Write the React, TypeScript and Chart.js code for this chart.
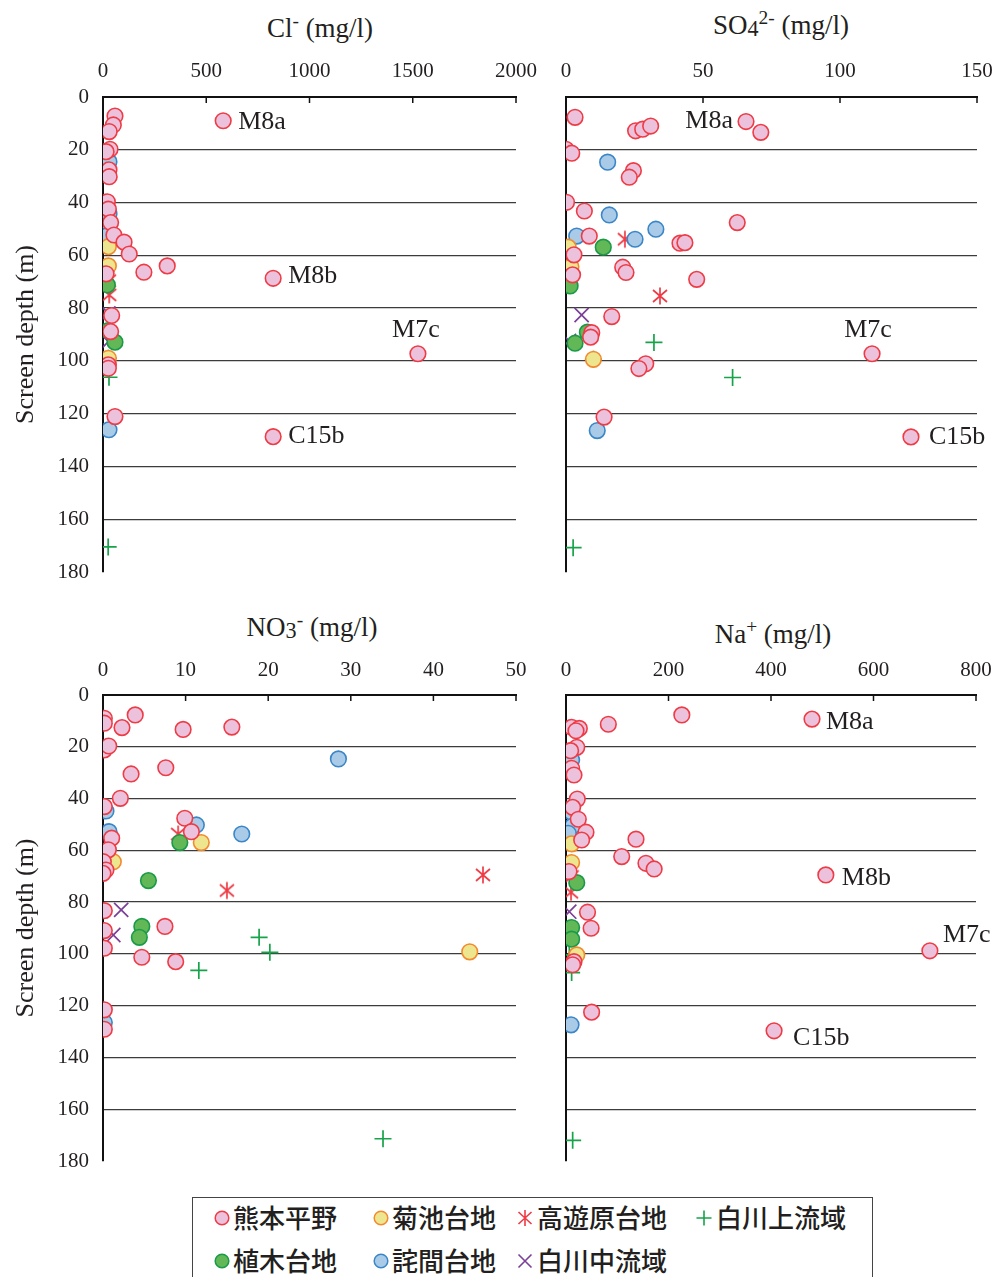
import React, { useEffect, useRef } from 'react';
import { Chart, registerables } from 'chart.js';

Chart.register(...registerables);

type P = [number, number]; // [concentration, screen depth]

// ---------- Cl- (mg/l) ----------
const clKumamoto: P[] = [[58, 7.2], [50, 10.6], [30, 13.1], [34, 19.8], [15, 20.7], [29, 27.6], [30, 30.2], [21, 39.7], [26, 42.5], [37, 47.6], [53, 52.3], [102, 55.0], [127, 59.5], [198, 66.4], [311, 64.0], [15, 67.0], [824, 68.7], [582, 9.0], [42, 82.8], [37, 88.9], [26, 101.5], [26, 102.8], [58, 121.1], [824, 128.7], [1525, 97.3]];
const clKikuchi: P[] = [[26, 56.7], [26, 64.0], [26, 99.0]];
const clTakayubaru: P[] = [[29, 53.5], [29, 69.6], [30, 75.0]];
const clShirakawaUpper: P[] = [[26, 99.0], [29, 106.2], [25, 170.5]];
const clUeki: P[] = [[21, 71.2], [26, 88.5], [58, 92.9]];
const clTakuma: P[] = [[29, 24.5], [29, 44.3], [29, 50.1], [21, 52.5], [29, 126.1]];
const clShirakawaMid: P[] = [[26, 82.0], [26, 92.7]];

// ---------- SO4 2- (mg/l) ----------
const so4Kumamoto: P[] = [[3.3, 7.7], [25.4, 12.8], [28.0, 12.2], [30.9, 11.0], [65.7, 9.3], [71.1, 13.4], [0, 19.8], [2.1, 21.3], [24.6, 27.9], [23.1, 30.4], [0.2, 39.9], [6.7, 43.2], [62.5, 47.6], [8.5, 52.7], [41.6, 55.4], [43.4, 55.2], [2.9, 59.8], [20.7, 64.5], [21.9, 66.5], [2.4, 67.4], [47.7, 69.1], [16.7, 83.2], [9.4, 89.3], [9.0, 91.0], [29.1, 101.1], [26.6, 102.9], [13.9, 121.3], [111.7, 97.3], [125.9, 128.8]];
const so4Kikuchi: P[] = [[0.8, 56.9], [1.8, 64.3], [10.0, 99.4]];
const so4Takayubaru: P[] = [[21.5, 53.9], [1.7, 70.3], [34.3, 75.4]];
const so4ShirakawaUpper: P[] = [[32.1, 93.0], [10.0, 99.4], [60.8, 106.3], [2.6, 170.8]];
const so4Ueki: P[] = [[13.6, 56.9], [1.5, 71.6], [7.8, 89.1], [3.3, 93.3]];
const so4Takuma: P[] = [[15.2, 24.7], [15.8, 44.7], [32.8, 50.1], [3.9, 52.7], [25.2, 53.9], [11.4, 126.4]];
const so4ShirakawaMid: P[] = [[5.7, 82.6], [1.1, 92.4]];

// ---------- NO3- (mg/l) ----------
const no3Kumamoto: P[] = [[0.16, 9.0], [0.16, 10.9], [3.9, 7.7], [2.3, 12.6], [9.7, 13.3], [15.6, 12.4], [0.16, 21.2], [0.7, 19.7], [7.6, 28.1], [3.4, 30.5], [2.1, 39.9], [0.16, 43.1], [9.9, 47.6], [10.7, 52.8], [1.05, 55.3], [0.65, 59.8], [0.04, 64.4], [0.36, 67.6], [0, 68.9], [0.16, 83.3], [0.16, 91.0], [7.5, 89.4], [0.16, 97.8], [4.7, 101.3], [8.8, 103.0], [0.16, 121.6], [0.16, 129.1]];
const no3Kikuchi: P[] = [[11.9, 57.0], [1.25, 64.4], [44.4, 99.2]];
const no3Takayubaru: P[] = [[9.1, 53.7], [46.0, 69.5], [15.0, 75.5]];
const no3ShirakawaUpper: P[] = [[18.9, 93.6], [20.2, 99.4], [11.6, 106.4], [33.9, 171.4]];
const no3Ueki: P[] = [[9.3, 57.0], [5.5, 71.7], [4.7, 89.4], [4.4, 93.6]];
const no3Takuma: P[] = [[28.5, 24.7], [0.36, 44.8], [11.3, 50.2], [0.73, 52.8], [16.8, 53.7], [0.16, 126.5]];
const no3ShirakawaMid: P[] = [[2.2, 83.0], [1.25, 92.7]];

// ---------- Na+ (mg/l) ----------
const naKumamoto: P[] = [[226, 7.7], [82.6, 11.3], [11, 12.5], [26, 12.9], [19.5, 13.8], [21, 20.2], [9, 21.5], [11, 28.3], [15.6, 30.9], [22, 40.2], [13, 43.4], [24, 48.0], [39, 53.0], [30.6, 56.0], [136.6, 55.7], [108.7, 62.4], [156, 65.0], [172, 67.2], [5.9, 68.2], [42, 83.9], [49, 90.1], [15.6, 103.0], [13, 104.2], [50, 122.5], [480, 9.3], [507, 69.5], [710, 98.8], [406, 129.7]];
const naKikuchi: P[] = [[11, 57.5], [11, 64.7], [21, 100.4]];
const naTakayubaru: P[] = [[11, 54.1], [11, 70.1], [9.8, 76.2]];
const naShirakawaUpper: P[] = [[6.5, 100.4], [11, 107.2], [13, 172.0]];
const naUeki: P[] = [[21, 72.5], [11, 89.8], [11, 94.3]];
const naTakuma: P[] = [[11, 25.1], [11, 45.3], [13, 50.6], [4.5, 53.4], [9.8, 127.4]];
const naShirakawaMid: P[] = [[6.4, 83.7], [9, 93.0]];

// ---------- labels ----------
const groupLabels = ['熊本平野', '菊池台地', '高遊原台地', '白川上流域', '植木台地', '詫間台地', '白川中流域'];
const depthTicks = { min: 0, max: 180, step: 20 };
const yTitle = 'Screen depth (m)';

type Note = { text: string; x: number; y: number; dx: number; dy: number; align: CanvasTextAlign };
const clNotes: Note[] = [
  { text: 'M8a', x: 582, y: 9.0, dx: 15, dy: 1, align: 'left' },
  { text: 'M8b', x: 824, y: 68.7, dx: 15, dy: -2, align: 'left' },
  { text: 'M7c', x: 1525, y: 97.3, dx: -2, dy: -24, align: 'center' },
  { text: 'C15b', x: 824, y: 128.7, dx: 15, dy: 0, align: 'left' },
];
const so4Notes: Note[] = [
  { text: 'M8a', x: 65.7, y: 9.3, dx: -13, dy: 0, align: 'right' },
  { text: 'M7c', x: 111.7, y: 97.3, dx: -4, dy: -24, align: 'center' },
  { text: 'C15b', x: 125.9, y: 128.8, dx: 18, dy: 0, align: 'left' },
];
const naNotes: Note[] = [
  { text: 'M8a', x: 480, y: 9.3, dx: 14, dy: 3, align: 'left' },
  { text: 'M8b', x: 507, y: 69.5, dx: 16, dy: 3, align: 'left' },
  { text: 'M7c', x: 710, y: 98.8, dx: 13, dy: -16, align: 'left' },
  { text: 'C15b', x: 406, y: 129.7, dx: 19, dy: 7, align: 'left' },
];

const COLORS = {
  pinkFill: '#EBC1DB', pinkLine: '#EE3B45',
  yellowFill: '#EDE68E', yellowLine: '#F28A30',
  greenFill: '#62B856', greenLine: '#199A48',
  blueFill: '#AACBE7', blueLine: '#3A86C8',
  red: '#EE3B45', plus: '#17A34A', purple: '#7C3F98',
};

const SERIF = '"Liberation Serif", "Times New Roman", serif';
const CJK = '"Noto Sans CJK JP", "Noto Sans CJK SC", sans-serif';
const INK = '#231F20';

function makeAsterisk(color: string): HTMLCanvasElement {
  const c = document.createElement('canvas');
  c.width = 20; c.height = 20;
  const g = c.getContext('2d')!;
  g.strokeStyle = color; g.lineWidth = 1.7;
  g.beginPath();
  g.moveTo(10, 1.5); g.lineTo(10, 18.5);
  g.moveTo(3, 4); g.lineTo(17, 16);
  g.moveTo(17, 4); g.lineTo(3, 16);
  g.stroke();
  return c;
}

type PanelCfg = {
  left: number; top: number; w: number; h: number;
  yw: number; xh: number; pr: number; pb: number;
  xmax: number; step: number; showY: boolean; xpad: number;
  groups: P[][]; notes: Note[];
};

const panels: PanelCfg[] = [
  { left: 0, top: 40, w: 540, h: 550, yw: 103, xh: 57, pr: 24, pb: 18, xmax: 2000, step: 500, showY: true, xpad: 13,
    groups: [clKumamoto, clKikuchi, clTakayubaru, clShirakawaUpper, clUeki, clTakuma, clShirakawaMid], notes: clNotes },
  { left: 540, top: 40, w: 456, h: 550, yw: 26, xh: 57, pr: 19, pb: 18, xmax: 150, step: 50, showY: false, xpad: 13,
    groups: [so4Kumamoto, so4Kikuchi, so4Takayubaru, so4ShirakawaUpper, so4Ueki, so4Takuma, so4ShirakawaMid], notes: so4Notes },
  { left: 0, top: 640, w: 540, h: 545, yw: 103, xh: 55, pr: 24, pb: 24, xmax: 50, step: 10, showY: true, xpad: 12,
    groups: [no3Kumamoto, no3Kikuchi, no3Takayubaru, no3ShirakawaUpper, no3Ueki, no3Takuma, no3ShirakawaMid], notes: [] },
  { left: 540, top: 640, w: 456, h: 545, yw: 26, xh: 55, pr: 20, pb: 24, xmax: 800, step: 200, showY: false, xpad: 12,
    groups: [naKumamoto, naKikuchi, naTakayubaru, naShirakawaUpper, naUeki, naTakuma, naShirakawaMid], notes: naNotes },
];

function buildDatasets(groups: P[][], asterisk: HTMLCanvasElement) {
  const toPts = (g: P[]) => g.map(([x, y]) => ({ x, y }));
  const circle = (fill: string, line: string) => ({ pointStyle: 'circle', pointRadius: 7.8, backgroundColor: fill, borderColor: line, borderWidth: 1.6 });
  // drawing order: circles first, line markers on top
  return [
    { label: groupLabels[0], data: toPts(groups[0]), ...circle(COLORS.pinkFill, COLORS.pinkLine) },
    { label: groupLabels[1], data: toPts(groups[1]), ...circle(COLORS.yellowFill, COLORS.yellowLine) },
    { label: groupLabels[4], data: toPts(groups[4]), ...circle(COLORS.greenFill, COLORS.greenLine) },
    { label: groupLabels[5], data: toPts(groups[5]), ...circle(COLORS.blueFill, COLORS.blueLine) },
    { label: groupLabels[2], data: toPts(groups[2]), pointStyle: asterisk, pointRadius: 10, borderColor: COLORS.red, backgroundColor: COLORS.red },
    { label: groupLabels[3], data: toPts(groups[3]), pointStyle: 'cross', pointRadius: 8.5, borderColor: COLORS.plus, borderWidth: 1.7 },
    { label: groupLabels[6], data: toPts(groups[6]), pointStyle: 'crossRot', pointRadius: 10, borderColor: COLORS.purple, borderWidth: 1.7 },
  ];
}

function Panel({ cfg }: { cfg: PanelCfg }) {
  const ref = useRef<HTMLCanvasElement>(null);
  useEffect(() => {
    if (!ref.current) return;
    const asterisk = makeAsterisk(COLORS.red);
    const notes = cfg.notes;
    const decor = {
      id: 'decor',
      afterDraw(chart: any) {
        const { ctx, chartArea } = chart;
        const xs = chart.scales.x, ys = chart.scales.y;
        ctx.save();
        ctx.strokeStyle = '#111'; ctx.lineWidth = 1.5;
        xs.ticks.forEach((t: any, i: number) => {
          if (i === 0) return;
          const px = xs.getPixelForValue(t.value);
          ctx.beginPath(); ctx.moveTo(px, chartArea.top); ctx.lineTo(px, chartArea.top + 6); ctx.stroke();
        });
        ctx.font = `26px ${SERIF}`;
        ctx.fillStyle = INK;
        ctx.textBaseline = 'middle';
        for (const n of notes) {
          ctx.textAlign = n.align;
          ctx.fillText(n.text, xs.getPixelForValue(n.x) + n.dx, ys.getPixelForValue(n.y) + n.dy);
        }
        ctx.restore();
      },
    };
    const chart = new Chart(ref.current, {
      type: 'scatter',
      data: { datasets: buildDatasets(cfg.groups, asterisk) as any },
      options: {
        animation: false,
        responsive: false,
        maintainAspectRatio: false,
        layout: { padding: { left: 0, top: 0, right: cfg.pr, bottom: cfg.pb } },
        plugins: { legend: { display: false }, tooltip: { enabled: false }, title: { display: false } },
        scales: {
          x: {
            type: 'linear', position: 'top', min: 0, max: cfg.xmax,
            ticks: { stepSize: cfg.step, maxRotation: 0, padding: cfg.xpad, color: INK, font: { family: SERIF, size: 21 }, callback: (v: any) => String(v) },
            grid: { display: false, drawTicks: false },
            border: { display: true, color: '#111', width: 2 },
            afterFit: (s: any) => { s.height = cfg.xh; s.paddingLeft = 0; s.paddingRight = 0; },
          },
          y: {
            type: 'linear', reverse: true, min: depthTicks.min, max: depthTicks.max,
            ticks: { stepSize: depthTicks.step, display: cfg.showY, padding: 14, color: INK, font: { family: SERIF, size: 21 }, callback: (v: any) => String(v) },
            grid: {
              drawTicks: false, lineWidth: 1.3,
              color: (c: any) => (c.tick && (c.tick.value === depthTicks.min || c.tick.value === depthTicks.max)) ? 'rgba(0,0,0,0)' : '#3c3c3c',
            },
            border: { display: true, color: '#111', width: 2 },
            title: { display: cfg.showY, text: yTitle, color: INK, font: { family: SERIF, size: 26 }, padding: { top: 11, bottom: 0 } },
            afterFit: (s: any) => { s.width = cfg.yw; s.paddingTop = 0; s.paddingBottom = 0; },
          },
        },
      } as any,
      plugins: [decor],
    });
    return () => chart.destroy();
  }, [cfg]);
  return (
    <canvas ref={ref} width={cfg.w} height={cfg.h}
      style={{ position: 'absolute', left: cfg.left, top: cfg.top, width: cfg.w, height: cfg.h }} />
  );
}

const sup = (t: string) => <span style={{ fontSize: '0.72em', position: 'relative', top: '-0.5em' }}>{t}</span>;
const sub = (t: string) => <span style={{ fontSize: '0.82em', position: 'relative', top: '0.08em' }}>{t}</span>;

function Title({ cx, top, children }: { cx: number; top: number; children: React.ReactNode }) {
  return (
    <div style={{ position: 'absolute', left: cx - 150, top, width: 300, textAlign: 'center', fontFamily: SERIF, fontSize: 27, lineHeight: '32px', color: INK, whiteSpace: 'nowrap' }}>
      {children}
    </div>
  );
}

function Marker({ kind }: { kind: string }) {
  const s = 18;
  let el: React.ReactNode = null;
  if (kind === 'pink') el = <circle cx={9} cy={9} r={6.8} fill={COLORS.pinkFill} stroke={COLORS.pinkLine} strokeWidth={1.5} />;
  if (kind === 'yellow') el = <circle cx={9} cy={9} r={6.8} fill={COLORS.yellowFill} stroke={COLORS.yellowLine} strokeWidth={1.5} />;
  if (kind === 'green') el = <circle cx={9} cy={9} r={6.8} fill={COLORS.greenFill} stroke={COLORS.greenLine} strokeWidth={1.5} />;
  if (kind === 'blue') el = <circle cx={9} cy={9} r={6.8} fill={COLORS.blueFill} stroke={COLORS.blueLine} strokeWidth={1.5} />;
  if (kind === 'star') el = <path d="M9 1V17M2.5 3L15.5 15M15.5 3L2.5 15" stroke={COLORS.red} strokeWidth={1.6} fill="none" />;
  if (kind === 'plus') el = <path d="M1.5 9H16.5M9 1.5V16.5" stroke={COLORS.plus} strokeWidth={1.6} fill="none" />;
  if (kind === 'x') el = <path d="M2.5 2.5L15.5 15.5M15.5 2.5L2.5 15.5" stroke={COLORS.purple} strokeWidth={1.6} fill="none" />;
  return <svg width={s} height={s} style={{ display: 'block' }}>{el}</svg>;
}

const legendItems = [
  { kind: 'pink', label: groupLabels[0], mx: 222, tx: 233, row: 0 },
  { kind: 'yellow', label: groupLabels[1], mx: 381, tx: 392, row: 0 },
  { kind: 'star', label: groupLabels[2], mx: 525, tx: 537, row: 0 },
  { kind: 'plus', label: groupLabels[3], mx: 704, tx: 716, row: 0 },
  { kind: 'green', label: groupLabels[4], mx: 222, tx: 233, row: 1 },
  { kind: 'blue', label: groupLabels[5], mx: 381, tx: 392, row: 1 },
  { kind: 'x', label: groupLabels[6], mx: 525, tx: 537, row: 1 },
];
const rowY = [1218, 1261];

export default function App() {
  return (
    <div style={{ position: 'absolute', left: 0, top: 0, width: 996, height: 1277, overflow: 'hidden', background: '#fff', fontFamily: SERIF }}>
      <Title cx={320} top={12}>Cl{sup('-')} (mg/l)</Title>
      <Title cx={781} top={9}>SO{sub('4')}{sup('2-')} (mg/l)</Title>
      <Title cx={312} top={611}>NO{sub('3')}{sup('-')} (mg/l)</Title>
      <Title cx={773} top={618}>Na{sup('+')} (mg/l)</Title>
      {panels.map((p, i) => <Panel key={i} cfg={p} />)}
      <div style={{ position: 'absolute', left: 192, top: 1197, width: 681, height: 100, border: '1.5px solid #444', boxSizing: 'border-box' }} />
      {legendItems.map((it, i) => (
        <React.Fragment key={i}>
          <div style={{ position: 'absolute', left: it.mx - 9, top: rowY[it.row] - 9 }}><Marker kind={it.kind} /></div>
          <div style={{ position: 'absolute', left: it.tx, top: rowY[it.row] - 16, fontFamily: CJK, fontSize: 26, fontWeight: 500, lineHeight: '30px', color: INK, whiteSpace: 'nowrap' }}>{it.label}</div>
        </React.Fragment>
      ))}
    </div>
  );
}
